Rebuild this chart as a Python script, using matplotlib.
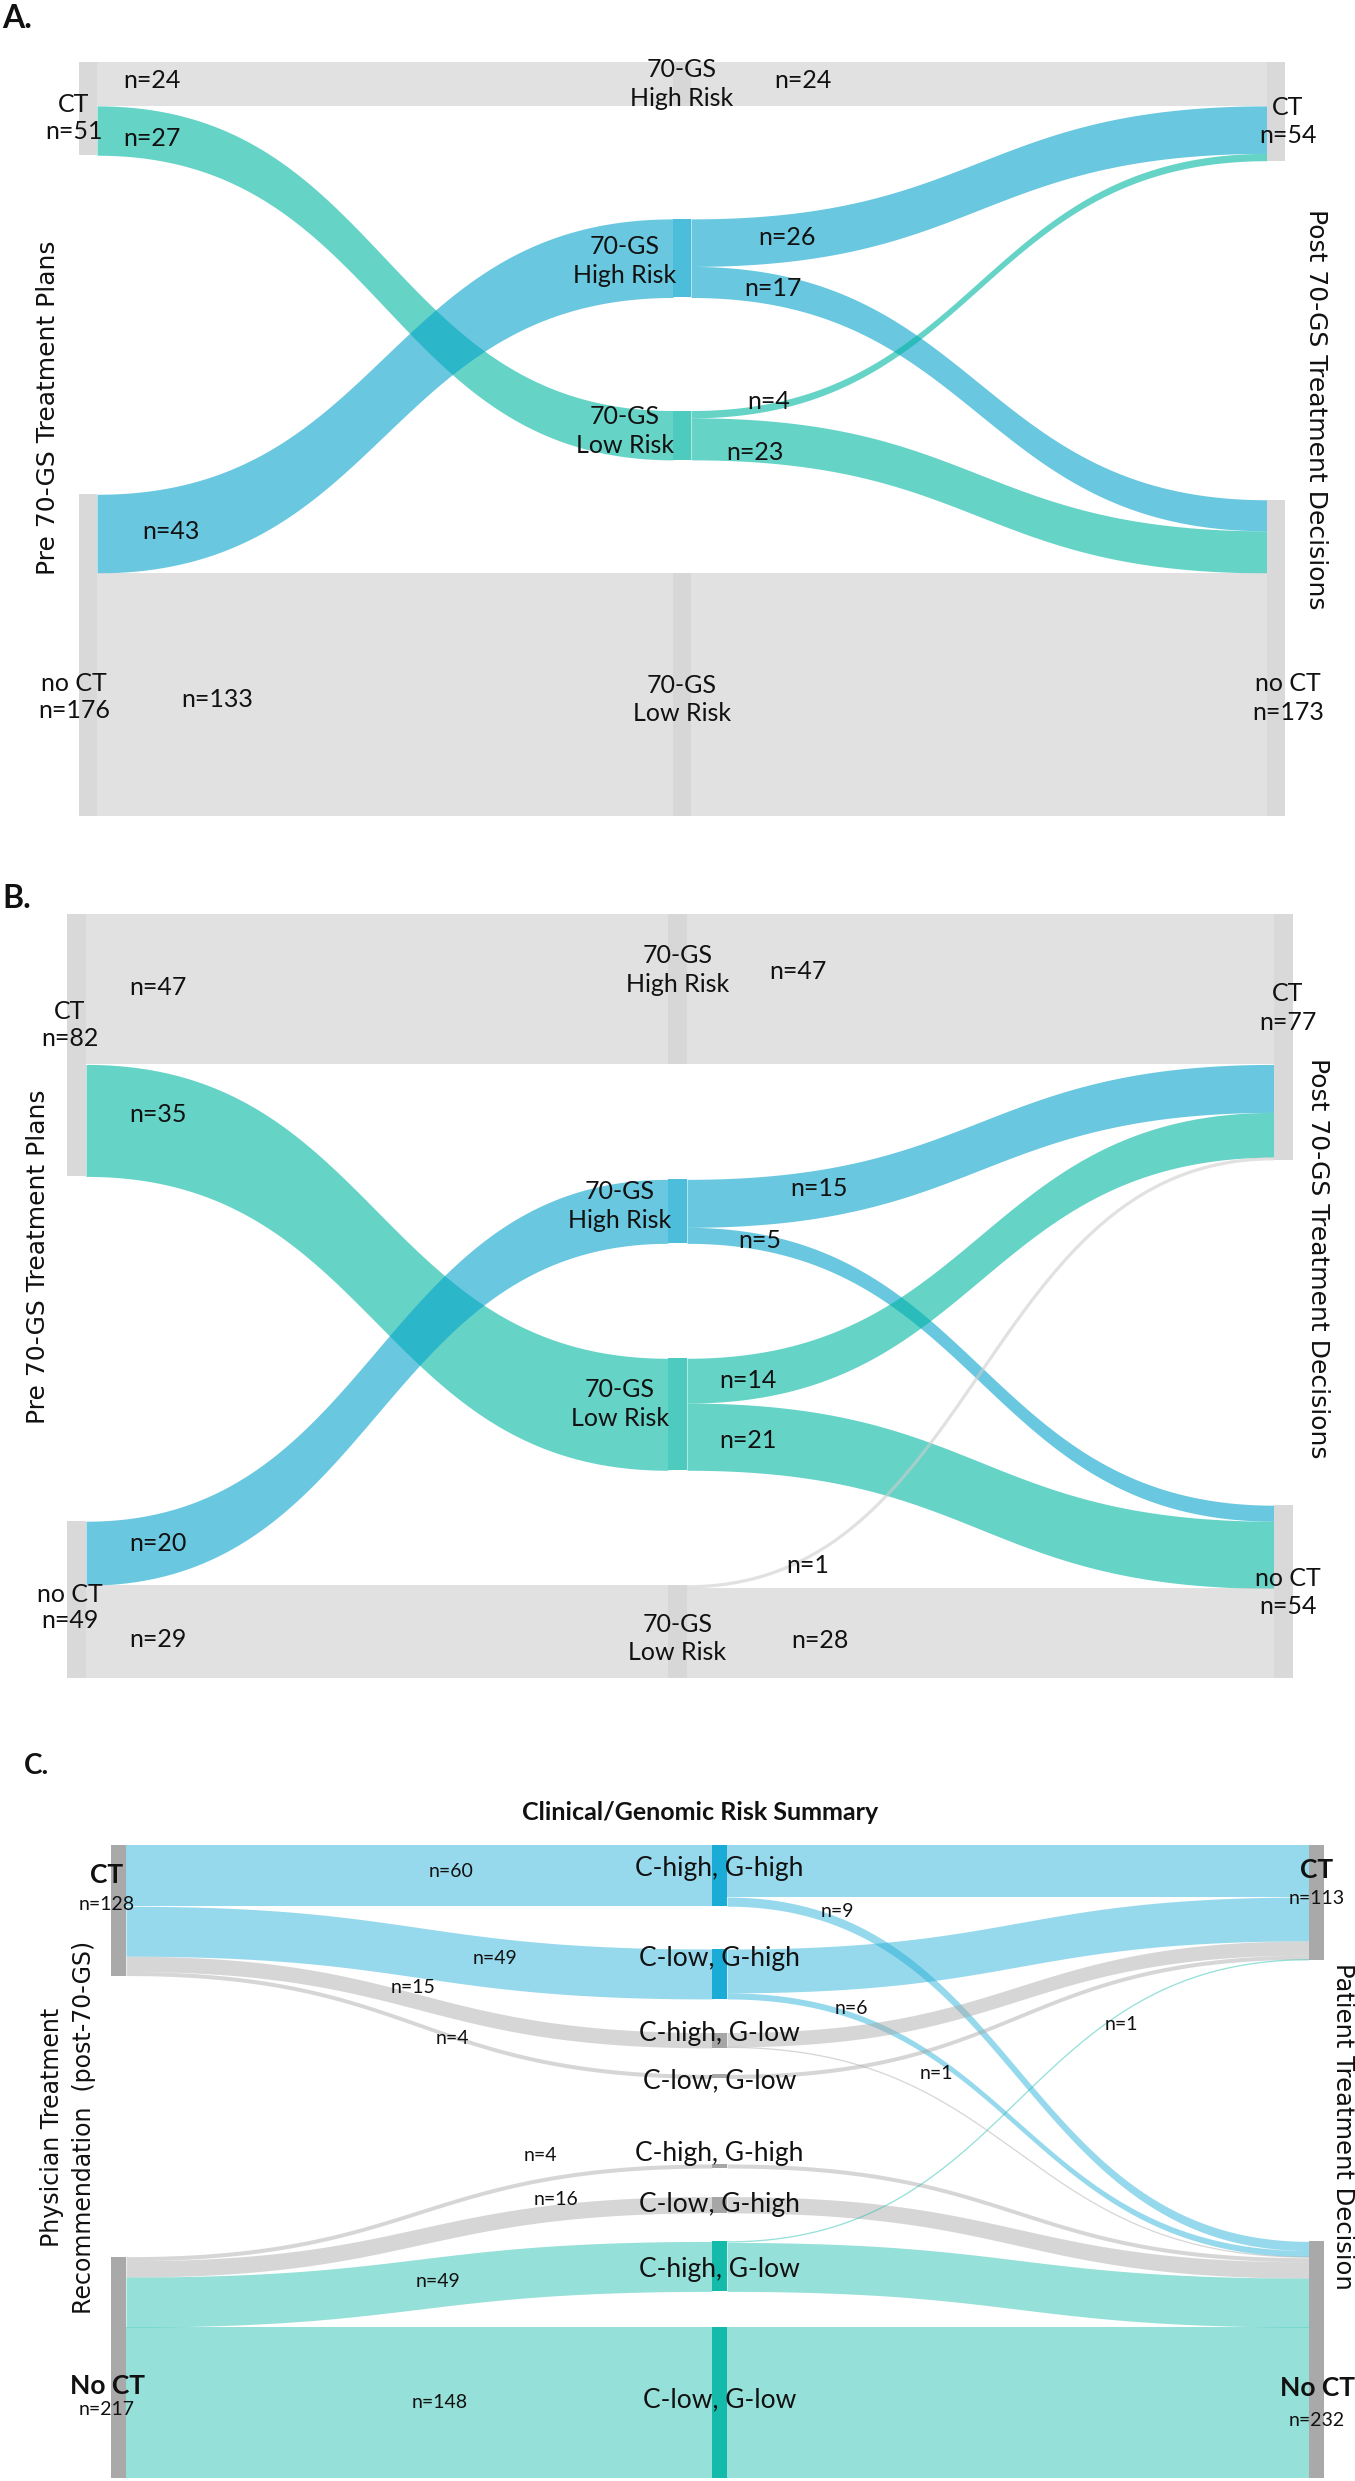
import numpy as np
import matplotlib.pyplot as plt
from matplotlib.patches import Rectangle

plt.rcParams['font.family'] = ['Lato', 'DejaVu Sans']

W, H = 1355, 2481
fig = plt.figure(figsize=(W / 100, H / 100), dpi=100)

# ---------------- data ----------------
# Panel A: pre-70-GS plan -> 70-GS result -> post-70-GS decision
A_side = ['CT', 'no CT']
A_mid = ['70-GS\nHigh Risk', '70-GS\nHigh Risk', '70-GS\nLow Risk', '70-GS\nLow Risk']
A_mid_color = ['gray', 'blue', 'teal', 'gray']
A_in_src = [0, 0, 1, 1]
A_in_mid = [0, 2, 1, 3]
A_in_n = [24, 27, 43, 133]
A_out_mid = [0, 1, 1, 2, 2, 3]
A_out_dst = [0, 0, 1, 0, 1, 1]
A_out_n = [24, 26, 17, 4, 23, 133]

# Panel B
B_side = ['CT', 'no CT']
B_mid = ['70-GS\nHigh Risk', '70-GS\nHigh Risk', '70-GS\nLow Risk', '70-GS\nLow Risk']
B_mid_color = ['gray', 'blue', 'teal', 'gray']
B_in_src = [0, 0, 1, 1]
B_in_mid = [0, 2, 1, 3]
B_in_n = [47, 35, 20, 29]
B_out_mid = [0, 1, 1, 2, 2, 3, 3]
B_out_dst = [0, 0, 1, 0, 1, 0, 1]
B_out_n = [47, 15, 5, 14, 21, 1, 28]

# Panel C: physician recommendation -> clinical/genomic risk -> patient decision
C_side = ['CT', 'No CT']
C_mid = ['C-high, G-high', 'C-low, G-high', 'C-high, G-low', 'C-low, G-low',
         'C-high, G-high', 'C-low, G-high', 'C-high, G-low', 'C-low, G-low']
C_mid_color = ['blue', 'blue', 'gray', 'gray', 'gray', 'gray', 'teal', 'teal']
C_in_src = [0, 0, 0, 0, 1, 1, 1, 1]
C_in_mid = [0, 1, 2, 3, 4, 5, 6, 7]
C_in_n = [60, 49, 15, 4, 4, 16, 49, 148]
C_out_mid = [0, 0, 1, 1, 2, 2, 3, 4, 5, 6, 6, 7]
C_out_dst = [0, 1, 0, 1, 0, 1, 0, 1, 1, 0, 1, 1]
C_out_n = [51, 9, 43, 6, 14, 1, 4, 4, 16, 1, 48, 148]

# ---------------- layout / style ----------------
AB_link = {'blue': '#05a3cb', 'teal': '#00b6a3', 'gray': '#cdcdcd'}
AB_node = {'blue': '#4cbedc', 'teal': '#4ccbbe', 'gray': '#d7d7d7'}
C_link = {'blue': '#1aacd6', 'teal': '#15bbaa', 'gray': '#a6a6a6'}
C_node = C_link
TXT = '#111111'

LA = dict(top=62, bottom=816, scale=1.828, x=(79, 673, 1267), w=18,
          in_lab=[(0.095, 0, -3), (0.095, 0, 4), (0.128, 0, 5), (0.208, 0, 5)],
          out_lab=[(0.194, 0, -3), (0.167, 0, 0), (0.142, 0, -1), (0.135, 0, -6),
                   (0.111, 0, 12), None],
          mid_dy=[0, 3, -4, 5], side_x=(74, 1288), left_dy=[9, 42], right_dy=[10, 40])
LB = dict(top=914, bottom=1678, scale=3.2, x=(67, 668, 1274), w=19,
          in_lab=[(0.124, 0, -2), (0.124, 0, -13), (0.124, 0, -2), (0.124, 0, 8)],
          out_lab=[(0.189, 0, -18), (0.225, 0, -5), (0.124, 0, -1), (0.104, 0, 4),
                   (0.104, 0, 2), (0.206, 0, 8), (0.227, 0, 7)],
          mid_dy=[-19, -5, -10, 7], side_x=(70, 1288), left_dy=[-20, 8], right_dy=[-29, 1])
LC = dict(top=1845, bottom=2478, scale=1.02, x=(111, 712, 1309), w=15,
          mid_gaps=[42, 33, 26, 84, 28, 28, 35],
          in_lab=[(0.555, 0, -4), (0.629, 0, -4), (0.49, 0, -13), (0.557, 0, 2),
                  (0.707, 0, -25), (0.734, 0, -13), (0.533, 0, 0), (0.535, 0, 0)],
          out_lab=[None, (0.19, 0, -10), None, (0.213, 0, -6), None, (0.36, 0, -25),
                   None, None, None, (0.657, 12, 3), None, None],
          mid_dy=[-7, -15, -7, 4, -13, 0, 3, -3], side_x=(107, 1317),
          left_dy=[(-35, -6), (19, 42)], right_dy=[(-33, -4), (28, 61)])

U = np.linspace(0, 1, 300)
FX = 1.5 * U * (1 - U) + U ** 3
EY = 3 * U ** 2 - 2 * U ** 3


def stack(sizes, span, weights=None):
    weights = weights or [1] * (len(sizes) - 1)
    free = span - sum(sizes)
    tops, y = [], 0.0
    for i, v in enumerate(sizes):
        tops.append(y)
        y += v
        if i < len(sizes) - 1:
            y += free * weights[i] / sum(weights)
    return tops


def offsets(node, other, vals, tops):
    y = [0.0] * len(vals)
    cur = list(tops)
    for i in sorted(range(len(vals)), key=lambda i: (node[i], other[i])):
        y[i] = cur[node[i]]
        cur[node[i]] += vals[i]
    return y


def ribbon(ax, x0, x1, y0, y1, v, color, alpha, s):
    xs = x0 + (x1 - x0) * FX
    ys = y0 + (y1 - y0) * EY
    if v * s < 4:
        ax.plot(xs, ys + v / 2, lw=max(v * s, 1.3) * 0.72, color=color, alpha=alpha,
                solid_capstyle='butt', zorder=1)
    else:
        ax.fill_between(xs, ys, ys + v, color=color, alpha=alpha, lw=0, zorder=1)


def along(x0, x1, y0, y1, v, f):
    u = np.interp(f, FX, U)
    return x0 + (x1 - x0) * f, y0 + (y1 - y0) * (3 * u ** 2 - 2 * u ** 3) + v / 2


def sankey(in_src, in_mid, in_n, out_mid, out_dst, out_n, mid_color, L,
           link_c, node_c, side_c, alpha, lab_size):
    ax = fig.add_axes([0, 0, 1, 1])
    ax.patch.set_alpha(0)
    s = L['scale']
    span = (L['bottom'] - L['top']) / s
    ax.set_xlim(0, W)
    ax.set_ylim((H - L['top']) / s, -L['top'] / s)
    ax.axis('off')
    n_l, n_m, n_r = max(in_src) + 1, len(mid_color), max(out_dst) + 1
    left_v = [sum(v for a, v in zip(in_src, in_n) if a == i) for i in range(n_l)]
    mid_v = [sum(v for m, v in zip(in_mid, in_n) if m == j) for j in range(n_m)]
    right_v = [sum(v for d, v in zip(out_dst, out_n) if d == k) for k in range(n_r)]
    left_y = stack(left_v, span)
    mid_y = stack(mid_v, span, L.get('mid_gaps'))
    right_y = stack(right_v, span)
    xl, xm, xr = L['x']
    w = L['w']

    ya = offsets(in_src, in_mid, in_n, left_y)
    yb = offsets(in_mid, in_src, in_n, mid_y)
    for i, v in enumerate(in_n):
        ribbon(ax, xl + w, xm, ya[i], yb[i], v, link_c[mid_color[in_mid[i]]], alpha, s)
        lab = L['in_lab'][i]
        if lab:
            x, y = along(xl + w, xm, ya[i], yb[i], v, lab[0])
            ax.text(x + lab[1], y + lab[2] / s, f'n={v}', ha='center', va='center',
                    fontsize=lab_size, color=TXT, zorder=3)

    yc = offsets(out_mid, out_dst, out_n, mid_y)
    yd = offsets(out_dst, out_mid, out_n, right_y)
    for i, v in enumerate(out_n):
        ribbon(ax, xm + w, xr, yc[i], yd[i], v, link_c[mid_color[out_mid[i]]], alpha, s)
        lab = L['out_lab'][i]
        if lab:
            x, y = along(xm + w, xr, yc[i], yd[i], v, lab[0])
            ax.text(x + lab[1], y + lab[2] / s, f'n={v}', ha='center', va='center',
                    fontsize=lab_size, color=TXT, zorder=3)

    for i, v in enumerate(left_v):
        ax.add_patch(Rectangle((xl, left_y[i]), w, v, color=side_c, lw=0, zorder=2))
    for j, v in enumerate(mid_v):
        ax.add_patch(Rectangle((xm, mid_y[j]), w, v, color=node_c[mid_color[j]], lw=0, zorder=2))
    for k, v in enumerate(right_v):
        ax.add_patch(Rectangle((xr, right_y[k]), w, v, color=side_c, lw=0, zorder=2))
    return ax, s, left_v, left_y, mid_v, mid_y, right_v, right_y


# ---------------- panels A and B ----------------
for side, mid, mc, data, L in [
        (A_side, A_mid, A_mid_color, (A_in_src, A_in_mid, A_in_n, A_out_mid, A_out_dst, A_out_n), LA),
        (B_side, B_mid, B_mid_color, (B_in_src, B_in_mid, B_in_n, B_out_mid, B_out_dst, B_out_n), LB)]:
    ax, s, lv, ly, mv, my, rv, ry = sankey(*data, mc, L, AB_link, AB_node, '#d9d9d9', 0.6, 18)
    xl, xm, xr = L['x']
    for j, name in enumerate(mid):
        x = xm + L['w'] / 2 if mc[j] == 'gray' else xm - 48
        ax.text(x, my[j] + mv[j] / 2 + L['mid_dy'][j] / s, name, ha='center', va='center',
                fontsize=18, color=TXT, linespacing=1.3, zorder=3)
    for i, name in enumerate(side):
        ax.text(L['side_x'][0], ly[i] + lv[i] / 2 + L['left_dy'][i] / s, f'{name}\nn={lv[i]}',
                ha='center', va='center', fontsize=18, color=TXT, linespacing=1.2, zorder=3)
        ax.text(L['side_x'][1], ry[i] + rv[i] / 2 + L['right_dy'][i] / s, f'{name}\nn={rv[i]}',
                ha='center', va='center', fontsize=18, color=TXT, linespacing=1.3, zorder=3)

# ---------------- panel C ----------------
ax, s, lv, ly, mv, my, rv, ry = sankey(C_in_src, C_in_mid, C_in_n, C_out_mid, C_out_dst, C_out_n,
                                       C_mid_color, LC, C_link, C_node, '#a9a9a9', 0.45, 14)
xl, xm, xr = LC['x']
for j, name in enumerate(C_mid):
    ax.text(xm + LC['w'] / 2, my[j] + mv[j] / 2 + LC['mid_dy'][j] / s, name, ha='center',
            va='center', fontsize=19, color=TXT, zorder=3)
for i, name in enumerate(C_side):
    for x, v, y0, dy in [(LC['side_x'][0], lv[i], ly[i], LC['left_dy'][i]),
                         (LC['side_x'][1], rv[i], ry[i], LC['right_dy'][i])]:
        ax.text(x, y0 + v / 2 + dy[0] / s, name, ha='center', va='center', fontsize=19,
                fontweight='bold', color=TXT, zorder=3)
        ax.text(x, y0 + v / 2 + dy[1] / s, f'n={v}', ha='center', va='center', fontsize=14,
                color=TXT, zorder=3)


# ---------------- titles ----------------
def px(x, y):
    return x / W, 1 - y / H


tkw = dict(family='DejaVu Sans', color=TXT, ha='center', va='center')
fig.text(*px(48, 408), 'Pre 70-GS Treatment Plans', rotation=90, fontsize=18, **tkw)
fig.text(*px(1316, 409), 'Post 70-GS Treatment Decisions', rotation=-90, fontsize=18, **tkw)
fig.text(*px(38, 1257), 'Pre 70-GS Treatment Plans', rotation=90, fontsize=18, **tkw)
fig.text(*px(1318, 1258), 'Post 70-GS Treatment Decisions', rotation=-90, fontsize=18, **tkw)
fig.text(*px(68, 2127), 'Physician Treatment\nRecommendation  (post-70-GS)', rotation=90,
         fontsize=17, linespacing=1.45, **tkw)
fig.text(*px(1343, 2126), 'Patient Treatment Decision', rotation=-90, fontsize=17.5, **tkw)

fig.text(*px(700, 1812), 'Clinical/Genomic Risk Summary', fontsize=18, fontweight='bold',
         color=TXT, ha='center', va='center')
fig.text(*px(2, 4), 'A.', fontsize=23, fontweight='bold', color=TXT, ha='left', va='top')
fig.text(*px(2, 884), 'B.', fontsize=23, fontweight='bold', color=TXT, ha='left', va='top')
fig.text(*px(24, 1753), 'C.', fontsize=20, fontweight='bold', color=TXT, ha='left', va='top')

fig.savefig('out.png', dpi=100)
